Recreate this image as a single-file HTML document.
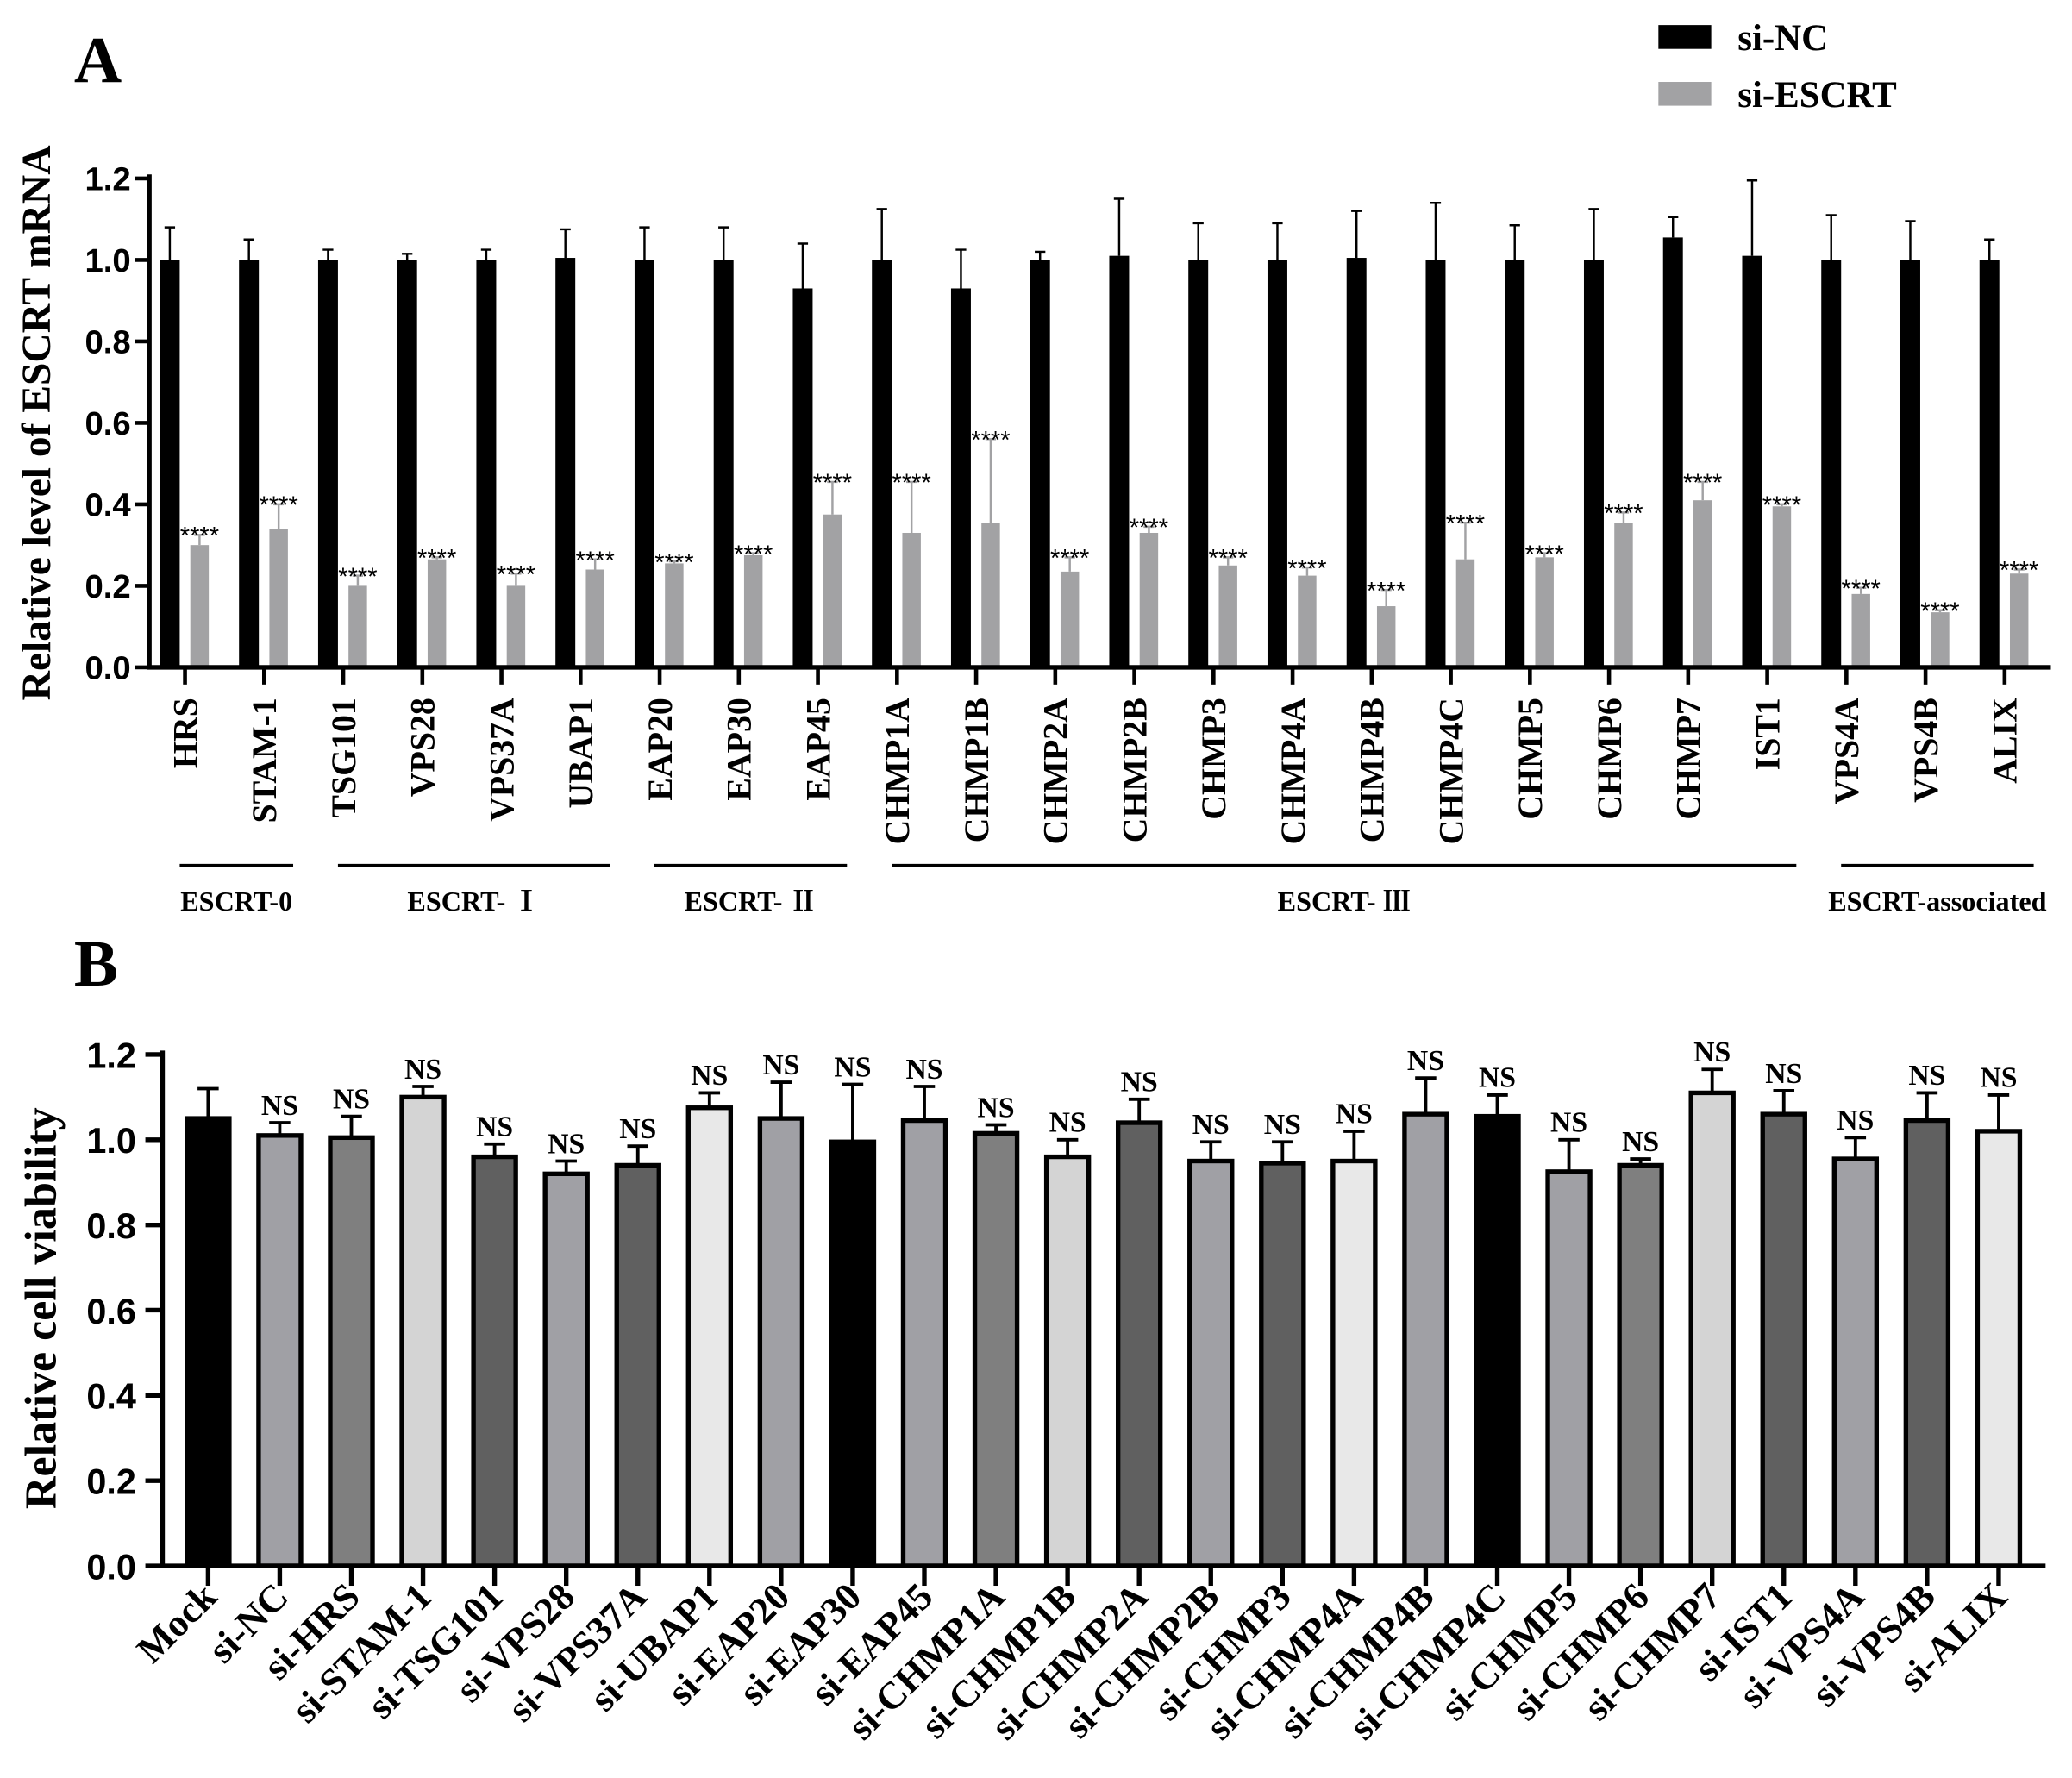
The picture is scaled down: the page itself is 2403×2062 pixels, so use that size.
<!DOCTYPE html>
<html><head><meta charset="utf-8"><style>html,body{margin:0;padding:0;background:#fff}svg{display:block}</style></head>
<body>
<svg id="fig" width="2403" height="2062" viewBox="0 0 1568 1345.5" preserveAspectRatio="none" xmlns="http://www.w3.org/2000/svg">
<g font-family="Liberation Serif, serif" font-weight="bold">
<text x="56" y="62" font-size="50">A</text>
<text x="56" y="746" font-size="50">B</text>
<rect x="1255" y="19" width="40" height="18" fill="#000"/>
<text x="1315" y="38" font-size="28">si-NC</text>
<rect x="1255" y="62" width="40" height="18" fill="#a2a2a4"/>
<text x="1315" y="81" font-size="28">si-ESCRT</text>
<text transform="translate(38,320) rotate(-90)" text-anchor="middle" font-size="31">Relative level of ESCRT mRNA</text>
<text transform="translate(42,990) rotate(-90)" text-anchor="middle" font-size="34">Relative cell viability</text>
</g>
<g id="chartA"></g>
<g id="chartB"></g>
</svg>
<script>
const catsA=["HRS","STAM-1","TSG101","VPS28","VPS37A","UBAP1","EAP20","EAP30","EAP45","CHMP1A","CHMP1B","CHMP2A","CHMP2B","CHMP3","CHMP4A","CHMP4B","CHMP4C","CHMP5","CHMP6","CHMP7","IST1","VPS4A","VPS4B","ALIX"];
const ncVals=[1.0,1.0,1.0,1.0,1.0,1.005,1.0,1.0,0.93,1.0,0.93,1.0,1.01,1.0,1.0,1.005,1.0,1.0,1.0,1.055,1.01,1.0,1.0,1.0];
const ncErr=[1.08,1.05,1.025,1.015,1.025,1.075,1.08,1.08,1.04,1.125,1.025,1.02,1.15,1.09,1.09,1.12,1.14,1.085,1.125,1.105,1.195,1.11,1.095,1.05];
const esVals=[0.30,0.34,0.20,0.265,0.20,0.24,0.255,0.275,0.375,0.33,0.355,0.235,0.33,0.25,0.225,0.15,0.265,0.27,0.355,0.41,0.395,0.18,0.135,0.23];
const esErr=[0.325,0.40,0.225,0.27,0.23,0.265,0.26,0.28,0.455,0.455,0.56,0.27,0.345,0.27,0.245,0.19,0.355,0.28,0.38,0.455,0.40,0.195,0.14,0.24];
const ticksA=["0.0","0.2","0.4","0.6","0.8","1.0","1.2"];
const groupNames=["ESCRT-0","ESCRT- Ⅰ","ESCRT- Ⅱ","ESCRT- Ⅲ","ESCRT-associated"];
const groupStart=[0,2,6,9,21];
const groupEnd=[1,5,8,20,23];
const catsB=["Mock","si-NC","si-HRS","si-STAM-1","si-TSG101","si-VPS28","si-VPS37A","si-UBAP1","si-EAP20","si-EAP30","si-EAP45","si-CHMP1A","si-CHMP1B","si-CHMP2A","si-CHMP2B","si-CHMP3","si-CHMP4A","si-CHMP4B","si-CHMP4C","si-CHMP5","si-CHMP6","si-CHMP7","si-IST1","si-VPS4A","si-VPS4B","si-ALIX"];
const vVals=[1.05,1.01,1.005,1.10,0.96,0.92,0.94,1.075,1.05,0.995,1.045,1.015,0.96,1.04,0.95,0.945,0.95,1.06,1.055,0.925,0.94,1.11,1.06,0.955,1.045,1.02];
const vErr=[1.12,1.04,1.055,1.125,0.99,0.95,0.985,1.11,1.135,1.13,1.125,1.035,1.0,1.095,0.995,0.995,1.02,1.145,1.105,1.0,0.955,1.165,1.115,1.005,1.11,1.105];
const ticksB=["0.0","0.2","0.4","0.6","0.8","1.0","1.2"];
const NS="http://www.w3.org/2000/svg";
function mk(parent,tag,attrs){const e=document.createElementNS(NS,tag);for(const k in attrs)e.setAttribute(k,attrs[k]);parent.appendChild(e);return e;}
// Chart A
const A=document.getElementById('chartA');
const yA=v=>505-v*(370/1.2);
const xA=i=>140+i*59.87;
ticksA.forEach(t=>{const y=yA(parseFloat(t));
 const l=mk(A,'line',{x1:102,x2:113,y1:y,y2:y,stroke:'#000','stroke-width':3});
 
 
 const tx=mk(A,'text',{x:99,y:y+9,'text-anchor':'end','font-family':'Liberation Sans, sans-serif','font-weight':'bold','font-size':25});
 tx.textContent=t;
 
 
});
catsA.forEach((c,i)=>{const x=xA(i);
 const b=mk(A,'rect',{x:x-19,y:yA(ncVals[i]),width:15,height:yA(0)-yA(ncVals[i]),fill:'#000'});
 
 
 const e=mk(A,'path',{d:`M${x-11.5} ${yA(ncVals[i])}V${yA(ncErr[i])}M${x-15.5} ${yA(ncErr[i])}H${x-7.5}`,stroke:'#000','stroke-width':1.6,fill:'none'});
 
 
 const g=mk(A,'rect',{x:x+4,y:yA(esVals[i]),width:14,height:yA(0)-yA(esVals[i]),fill:'#a2a2a4'});
 
 
 const e2=mk(A,'path',{d:`M${x+11} ${yA(esVals[i])}V${yA(esErr[i])}M${x+7} ${yA(esErr[i])}H${x+15}`,stroke:'#a2a2a4','stroke-width':1.6,fill:'none'});
 
 
 const s=mk(A,'text',{x:x+11,y:yA(esErr[i])+7,'text-anchor':'middle','font-family':'Liberation Sans, sans-serif','font-size':19});
 s.textContent='****';
 
 
 const tk=mk(A,'line',{x1:x,x2:x,y1:505,y2:518,stroke:'#000','stroke-width':3});
 
 
 const lb=mk(A,'text',{transform:`translate(${x+9},528) rotate(-90)`,'text-anchor':'end','font-family':'Liberation Serif, serif','font-weight':'bold','font-size':26});
 lb.textContent=c;
 
 
});
const axA=mk(A,'path',{d:'M113 132V505H1552',stroke:'#000','stroke-width':3.5,fill:'none'});


groupNames.forEach((n,k)=>{const x1=xA(groupStart[k])-4,x2=xA(groupEnd[k])+22;
 const l=mk(A,'line',{x1:x1,x2:x2,y1:655,y2:655,stroke:'#000','stroke-width':2.5});
 
 
 const t=mk(A,'text',{x:(x1+x2)/2,y:689,'text-anchor':'middle','font-family':'Liberation Serif, "Noto Serif CJK SC", serif','font-weight':'bold','font-size':21});
 t.textContent=n;
 
 
});
// Chart B
const B=document.getElementById('chartB');
const yB=v=>1185-v*(387/1.2);
const xB=i=>157.5+i*54.2;
const fills=['#000','#a0a0a5','#7f7f7f','#d4d4d4','#606060','#a0a0a5','#606060','#e8e8e8','#a0a0a5'];
ticksB.forEach(t=>{const y=yB(parseFloat(t));
 const l=mk(B,'line',{x1:110,x2:123,y1:y,y2:y,stroke:'#000','stroke-width':3.5});
 
 
 const tx=mk(B,'text',{x:103,y:y+10,'text-anchor':'end','font-family':'Liberation Sans, sans-serif','font-weight':'bold','font-size':27});
 tx.textContent=t;
 
 
});
catsB.forEach((c,i)=>{const x=xB(i);
 const e=mk(B,'path',{d:`M${x} ${yB(vVals[i])}V${yB(vErr[i])}M${x-8} ${yB(vErr[i])}H${x+8}`,stroke:'#000','stroke-width':2.5,fill:'none'});
 
 
 const b=mk(B,'rect',{x:x-16,y:yB(vVals[i]),width:32,height:yB(0)-yB(vVals[i]),fill:fills[i%9],stroke:'#000','stroke-width':3.5});
 
 
 if(i>0){const s=mk(B,'text',{x:x,y:yB(vErr[i])-6,'text-anchor':'middle','font-family':'Liberation Serif, serif','font-weight':'bold','font-size':22});
 s.textContent='NS';
 
 }
 const tk=mk(B,'line',{x1:x,x2:x,y1:1185,y2:1200,stroke:'#000','stroke-width':3.5});
 
 
 const lb=mk(B,'text',{transform:`translate(${x+8},1210) rotate(-45)`,'text-anchor':'end','font-family':'Liberation Serif, serif','font-weight':'bold','font-size':29});
 lb.textContent=c;
 
 
});
const axB=mk(B,'path',{d:'M123 795V1185H1548',stroke:'#000','stroke-width':3.5,fill:'none'});


</script>
</body></html>
